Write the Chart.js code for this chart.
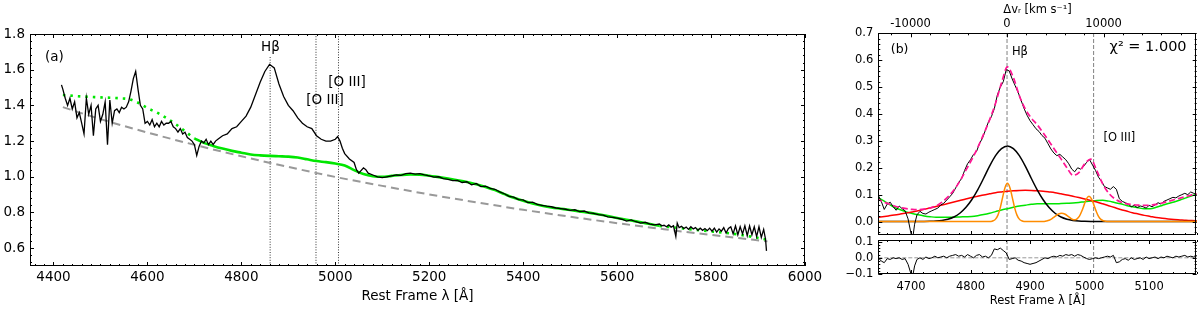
<!DOCTYPE html>
<html>
<head>
<meta charset="utf-8">
<script src="https://cdn.jsdelivr.net/npm/chart.js@4.4.1/dist/chart.umd.min.js"></script>
<style>
  html, body { margin: 0; padding: 0; background: #fff; }
  #wrap { position: relative; width: 1200px; height: 311px; overflow: hidden; }
  canvas { position: absolute; }
</style>
</head>
<body>
<div id="wrap">
  <canvas id="specA" width="840" height="311" style="left:0;top:0"></canvas>
  <canvas id="fitB" width="360" height="238" style="left:840px;top:0"></canvas>
  <canvas id="resB" width="360" height="75" style="left:840px;top:236px"></canvas>
</div>
<script>
// ---- panel (a): observed spectrum, host template, power-law continuum ----
const specA = [[4417,1.515],[4420,1.49],[4425,1.44],[4430,1.40],[4435,1.44],[4440,1.38],[4445,1.42],[4450,1.33],[4455,1.36],[4460,1.30],
  [4465,1.24],[4470,1.44],[4475,1.35],[4480,1.40],[4485,1.23],[4490,1.38],[4495,1.40],[4500,1.31],[4505,1.35],[4510,1.42],
  [4515,1.18],[4520,1.43],[4525,1.30],[4530,1.37],[4535,1.38],[4540,1.36],[4545,1.39],[4550,1.38],[4555,1.39],[4560,1.42],
  [4565,1.48],[4570,1.55],[4575,1.59],[4580,1.49],[4585,1.40],[4590,1.38],[4595,1.30],[4600,1.31],[4605,1.29],[4610,1.32],
  [4615,1.28],[4620,1.30],[4625,1.28],[4630,1.31],[4635,1.29],[4640,1.30],[4645,1.30],[4650,1.31],[4655,1.28],[4660,1.27],
  [4665,1.25],[4670,1.27],[4675,1.24],[4680,1.25],[4685,1.22],[4690,1.21],[4695,1.20],[4700,1.18],[4705,1.12],[4710,1.17],
  [4715,1.20],[4720,1.19],[4725,1.21],[4730,1.18],[4735,1.20],[4740,1.18],[4745,1.20],[4750,1.21],[4755,1.22],[4760,1.23],
  [4770,1.24],[4780,1.27],[4790,1.28],[4800,1.31],[4810,1.34],[4820,1.39],[4830,1.46],[4840,1.53],[4850,1.59],[4860,1.63],
  [4870,1.61],[4880,1.52],[4890,1.45],[4900,1.40],[4910,1.37],[4920,1.33],[4930,1.30],[4940,1.28],[4950,1.27],[4960,1.23],
  [4970,1.21],[4980,1.20],[4990,1.20],[5000,1.21],[5005,1.225],[5010,1.20],[5015,1.16],[5020,1.13],[5030,1.10],[5040,1.08],
  [5045,1.04],[5050,1.02],[5060,1.05],[5065,1.04],[5070,1.02],[5080,1.01],[5090,1.00],[5100,0.995],[5110,1.0],[5120,1.005],
  [5130,1.01],[5140,1.008],[5150,1.018],[5160,1.02],[5170,1.015],[5180,1.018],[5190,1.01],[5200,1.005],[5210,0.998],[5220,1.0],
  [5230,0.99],[5240,0.985],[5250,0.978],[5260,0.98],[5270,0.968],[5280,0.972],[5290,0.955],[5300,0.962],[5310,0.945],[5320,0.948],
  [5330,0.935],[5340,0.93],[5350,0.915],[5360,0.905],[5370,0.89],[5380,0.886],[5390,0.872],[5400,0.87],[5410,0.855],[5420,0.858],
  [5430,0.845],[5440,0.84],[5450,0.835],[5460,0.832],[5470,0.825],[5480,0.822],[5490,0.818],[5500,0.812],[5510,0.815],[5520,0.805],
  [5530,0.808],[5540,0.798],[5550,0.795],[5560,0.788],[5570,0.785],[5580,0.775],[5590,0.772],[5600,0.768],[5610,0.762],[5620,0.752],
  [5630,0.758],[5640,0.748],[5650,0.74],[5660,0.745],[5670,0.735],[5680,0.73],[5690,0.735],[5695,0.725],[5700,0.728],[5705,0.72],
  [5710,0.73],[5715,0.718],[5720,0.725],[5725,0.665],[5728,0.74],[5732,0.715],[5737,0.722],[5742,0.71],[5747,0.718],[5752,0.705],
  [5757,0.72],[5762,0.708],[5767,0.715],[5772,0.70],[5777,0.712],[5782,0.70],[5787,0.71],[5792,0.698],[5797,0.712],[5802,0.695],
  [5807,0.712],[5812,0.69],[5817,0.708],[5822,0.695],[5827,0.715],[5832,0.685],[5837,0.71],[5842,0.72],[5847,0.68],[5852,0.725],
  [5857,0.675],[5862,0.72],[5867,0.68],[5872,0.725],[5877,0.67],[5882,0.725],[5887,0.675],[5892,0.72],[5897,0.665],[5902,0.72],
  [5907,0.66],[5912,0.705],[5916,0.65],[5918,0.585]];

const hostFitA = [[4700,1.215],[4720,1.19],[4740,1.173],[4760,1.158],[4780,1.145],[4800,1.135],[4820,1.125],[4840,1.12],[4860,1.117],
  [4880,1.115],[4900,1.113],[4920,1.108],[4940,1.098],[4960,1.088],[4980,1.082],[5000,1.074],[5020,1.063],[5040,1.037],[5060,1.015],
  [5080,1.003],[5100,1.0],[5120,1.005],[5140,1.01],[5160,1.013],[5180,1.012],[5200,1.006],[5220,0.998],[5240,0.99],[5260,0.981],
  [5280,0.971],[5300,0.958],[5320,0.943],[5340,0.925],[5360,0.903],[5380,0.882],[5400,0.865],[5420,0.85],[5440,0.838],[5460,0.828],
  [5480,0.821],[5500,0.814],[5520,0.806],[5540,0.799],[5560,0.79],[5580,0.78],[5600,0.769],[5620,0.759],[5640,0.75],[5660,0.74],
  [5680,0.73],[5690,0.725]];
const hostBlueA = [[4420,1.458],[4460,1.45],[4500,1.445],[4540,1.44],[4560,1.435],[4580,1.415],[4600,1.385],[4620,1.36],[4640,1.33],
  [4660,1.295],[4680,1.255],[4700,1.215]];
const hostRedA = [[5690,0.725],[5720,0.716],[5760,0.705],[5800,0.694],[5840,0.683],[5880,0.667],[5918,0.648]];

const powerLawA = [[4420,1.39],[4500,1.323],[4600,1.248],[4700,1.179],[4800,1.115],[4900,1.055],[5000,0.999],[5100,0.949],
  [5200,0.901],[5300,0.857],[5400,0.815],[5500,0.776],[5600,0.740],[5700,0.706],[5800,0.674],[5920,0.638]];

const lineWavesA = [4861.3, 4958.9, 5006.8];
const lineTopsA = [1.68, 1.8, 1.8];
const xTicksA = [4400, 4600, 4800, 5000, 5200, 5400, 5600, 5800, 6000];
const yTicksA = [0.6, 0.8, 1.0, 1.2, 1.4, 1.6, 1.8];

// ---- panel (b): continuum-subtracted H-beta region and components ----
const specB = [[4645,0.097],[4650,0.075],[4655,0.045],[4660,0.065],[4665,0.072],[4670,0.055],[4675,0.042],[4680,0.058],[4685,0.048],
  [4690,0.040],[4695,0.01],[4700,-0.045],[4703,-0.06],[4706,-0.01],[4710,0.025],[4715,0.038],[4720,0.03],[4725,0.028],[4730,0.035],
  [4735,0.04],[4740,0.045],[4745,0.05],[4750,0.062],[4755,0.068],[4760,0.08],[4765,0.092],[4770,0.105],[4775,0.125],[4780,0.145],
  [4785,0.16],[4790,0.19],[4795,0.215],[4800,0.23],[4805,0.25],[4810,0.26],[4815,0.29],[4820,0.31],[4825,0.34],[4830,0.37],
  [4835,0.39],[4840,0.42],[4845,0.47],[4850,0.50],[4855,0.52],[4860,0.565],[4865,0.56],[4870,0.53],[4875,0.505],[4880,0.48],
  [4885,0.45],[4890,0.42],[4895,0.395],[4900,0.375],[4905,0.36],[4910,0.345],[4915,0.335],[4920,0.32],[4925,0.31],[4930,0.29],
  [4935,0.27],[4940,0.255],[4945,0.245],[4950,0.25],[4955,0.24],[4960,0.23],[4965,0.215],[4970,0.195],[4975,0.185],[4980,0.2],
  [4985,0.195],[4990,0.205],[4995,0.22],[5000,0.23],[5005,0.21],[5010,0.19],[5015,0.165],[5020,0.15],[5025,0.13],[5030,0.125],
  [5035,0.12],[5040,0.13],[5045,0.12],[5050,0.085],[5055,0.075],[5060,0.07],[5065,0.065],[5070,0.055],[5075,0.06],[5080,0.052],
  [5085,0.058],[5090,0.055],[5095,0.05],[5100,0.06],[5105,0.055],[5110,0.062],[5115,0.07],[5120,0.065],[5125,0.075],[5130,0.08],
  [5135,0.085],[5140,0.09],[5145,0.088],[5150,0.095],[5155,0.1],[5160,0.105],[5165,0.1],[5170,0.11],[5175,0.105],[5180,0.1]];

const gridB = [4642,4652,4662,4672,4682,4692,4702,4712,4722,4732,4742,4752,4762,4772,4782,4792,4802,4812,4822,4832,
  4842,4852,4862,4872,4882,4892,4902,4912,4922,4932,4942,4952,4962,4972,4982,4992,5002,5012,5022,5032,
  5042,5052,5062,5072,5082,5092,5102,5112,5122,5132,5142,5152,5162,5172,5182];
const totalB = [0.085,0.075,0.066,0.058,0.052,0.048,0.045,0.044,0.046,0.051,0.058,0.072,0.092,0.117,0.15,0.19,0.23,0.275,0.325,0.378,
  0.44,0.515,0.575,0.535,0.468,0.418,0.385,0.36,0.33,0.298,0.265,0.233,0.2,0.172,0.182,0.215,0.232,0.19,0.14,0.106,
  0.085,0.073,0.066,0.063,0.061,0.06,0.061,0.064,0.069,0.075,0.081,0.087,0.093,0.099,0.103];
const broadB = [0,0,0,0,0,0,0.0001,0.0001,0.0003,0.0008,0.0019,0.0043,0.0088,0.017,0.031,0.052,0.081,0.118,0.161,0.206,
  0.245,0.271,0.281,0.271,0.245,0.206,0.161,0.118,0.081,0.052,0.031,0.017,0.0088,0.0043,0.0019,0.0008,0.0003,0.0001,0,0,
  0,0,0,0,0,0,0,0,0,0,0,0,0,0,0];
const veryBroadB = [0.0152,0.0178,0.0208,0.024,0.0277,0.0316,0.0359,0.0405,0.0453,0.0505,0.0558,0.0613,0.067,0.0726,0.0783,0.084,0.0891,0.094,0.099,0.103,
  0.107,0.110,0.1127,0.1145,0.1156,0.116,0.1156,0.1145,0.1127,0.110,0.107,0.103,0.099,0.094,0.0891,0.084,0.0783,0.0726,0.066,0.059,
  0.052,0.045,0.039,0.033,0.028,0.023,0.019,0.015,0.012,0.0095,0.0075,0.006,0.0045,0.0035,0.0028];
const feIIB = [0.092,0.080,0.066,0.053,0.044,0.036,0.030,0.025,0.021,0.018,0.016,0.016,0.016,0.016,0.017,0.018,0.019,0.022,0.026,0.031,
  0.037,0.043,0.048,0.053,0.058,0.061,0.064,0.066,0.066,0.066,0.066,0.067,0.068,0.069,0.071,0.074,0.076,0.078,0.079,0.076,
  0.071,0.066,0.060,0.055,0.051,0.048,0.048,0.053,0.060,0.067,0.073,0.080,0.088,0.096,0.102];
const narrowB = [[4642,0],[4830,0],[4834,0.0004],[4838,0.003],[4842,0.009],[4846,0.024],[4850,0.052],[4854,0.091],[4858,0.127],
  [4862,0.142],[4866,0.127],[4870,0.091],[4874,0.052],[4878,0.024],[4882,0.009],[4886,0.003],[4890,0.0004],[4894,0],[4922,0],
  [4927,0.002],[4932,0.005],[4937,0.011],[4942,0.019],[4947,0.027],[4953,0.031],[4959,0.027],[4964,0.019],[4969,0.011],[4973,0.007],
  [4976,0.007],[4979,0.010],[4983,0.020],[4987,0.039],[4991,0.063],[4995,0.085],[4999,0.094],[5003,0.085],[5007,0.063],[5011,0.039],
  [5015,0.019],[5019,0.008],[5023,0.003],[5027,0.0008],[5031,0],[5182,0]];

const residB = [[4645,0.0],[4650,-0.02],[4655,-0.03],[4660,-0.005],[4665,-0.01],[4670,0.0],[4675,-0.005],[4680,0.0],[4685,-0.01],
  [4690,-0.005],[4695,-0.04],[4700,-0.1],[4703,-0.11],[4706,-0.05],[4710,-0.01],[4715,0.0],[4720,-0.01],[4725,0.005],[4730,-0.005],
  [4735,0.0],[4740,0.01],[4745,0.0],[4750,0.005],[4755,0.01],[4760,0.0],[4765,0.01],[4770,0.015],[4775,0.02],[4780,0.01],
  [4785,0.015],[4790,0.005],[4795,0.02],[4800,0.01],[4805,0.0],[4810,0.015],[4815,0.02],[4820,0.005],[4825,0.01],[4830,0.0],
  [4835,0.015],[4840,0.055],[4845,0.05],[4850,0.06],[4855,0.045],[4860,0.03],[4865,-0.01],[4870,-0.005],[4875,0.0],[4880,-0.015],
  [4885,-0.02],[4890,-0.03],[4895,-0.035],[4900,-0.04],[4905,-0.035],[4910,-0.03],[4915,-0.02],[4920,-0.01],[4925,0.0],[4930,-0.005],
  [4935,0.005],[4940,0.01],[4945,0.005],[4950,0.015],[4955,0.01],[4960,0.02],[4965,0.015],[4970,0.02],[4975,0.01],[4980,0.02],
  [4985,0.015],[4990,0.005],[4995,-0.005],[5000,-0.01],[5005,-0.005],[5010,0.0],[5015,-0.005],[5020,0.0],[5025,0.005],[5030,0.01],
  [5035,0.005],[5040,0.015],[5045,-0.03],[5050,-0.025],[5055,-0.01],[5060,-0.005],[5065,-0.015],[5070,0.0],[5075,-0.01],[5080,-0.005],
  [5085,0.0],[5090,-0.01],[5095,0.005],[5100,-0.005],[5105,0.0],[5110,0.005],[5115,-0.005],[5120,0.005],[5125,0.0],[5130,0.01],
  [5135,0.005],[5140,0.0],[5145,0.01],[5150,0.005],[5155,0.01],[5160,0.015],[5165,0.005],[5170,0.01],[5175,0.005],[5180,0.01]];

const lineWavesB = [4861.3, 5006.8];
const xTicksB = [4700, 4800, 4900, 5000, 5100];
const yTicksB = [0.0, 0.1, 0.2, 0.3, 0.4, 0.5, 0.6, 0.7];
const yTicksRes = [-0.1, 0.0, 0.1];
const vTicksB = [-10000, 0, 10000];
const restHb = 4861.3;
const cKms = 299792.458;

// ---- helpers ----
const FAMILY = 'DejaVu Sans';
const pairs = (list) => list.map(p => ({x: p[0], y: p[1]}));
const onGrid = (xs, ys) => xs.map((x, i) => ({x: x, y: ys[i]}));
const vline = (x, y0, y1) => [{x: x, y: y0}, {x: x, y: y1}];
const line = (data, color, width, dash, extra) => Object.assign({
  data: data, borderColor: color, borderWidth: width, borderDash: dash || [],
  pointRadius: 0, fill: false, tension: 0
}, extra || {});
const smooth = {cubicInterpolationMode: 'monotone'};
const setTicks = (vals) => (s) => { s.ticks = vals.map(v => ({value: v})); };
const fmt1 = (v) => (v < 0 ? '\u2212' + Math.abs(v).toFixed(1) : v.toFixed(1));
// fixed axis box sizes, no extra room for overhanging labels
const fixW = (w) => (s) => { s.width = w; s.paddingTop = 0; s.paddingBottom = 0; };
const fixH = (h) => (s) => { s.height = h; s.paddingLeft = 0; s.paddingRight = 0; };

// frame and inward tick marks (matplotlib style)
const frame = {
  id: 'frame',
  afterDatasetsDraw(chart, args, o) {
    const {ctx, chartArea: a, scales} = chart;
    ctx.save();
    ctx.strokeStyle = '#000';
    ctx.lineWidth = 1;
    ctx.setLineDash([]);
    ctx.strokeRect(Math.round(a.left) + 0.5, Math.round(a.top) + 0.5,
      Math.round(a.right - a.left) - 1, Math.round(a.bottom - a.top) - 1);
    const edge = {
      bottom: {at: a.bottom, dir: -1}, top: {at: a.top, dir: 1},
      left: {at: a.left, dir: 1}, right: {at: a.right, dir: -1}
    };
    (o.rows || []).forEach(r => {
      const s = scales[r.axis];
      const horiz = s.isHorizontal();
      const n0 = Math.ceil(s.min / r.minor - 1e-9), n1 = Math.floor(s.max / r.minor + 1e-9);
      for (let n = n0; n <= n1; n++) {
        const v = n * r.minor;
        const q = v / r.major;
        const len = Math.abs(q - Math.round(q)) < 1e-6 ? 4 : 2;
        const p = Math.round(s.getPixelForValue(v)) + 0.5;
        r.sides.forEach(sd => {
          const e = edge[sd];
          ctx.beginPath();
          if (horiz) { ctx.moveTo(p, e.at); ctx.lineTo(p, e.at + e.dir * len); }
          else { ctx.moveTo(e.at, p); ctx.lineTo(e.at + e.dir * len, p); }
          ctx.stroke();
        });
      }
    });
    ctx.restore();
  }
};

// text labels placed in data coordinates
const notes = {
  id: 'notes',
  afterDraw(chart, args, o) {
    const {ctx, scales} = chart;
    (o.items || []).forEach(it => {
      ctx.save();
      ctx.font = it[4] + 'px "' + FAMILY + '"';
      ctx.fillStyle = '#000';
      ctx.textAlign = it[3];
      ctx.textBaseline = 'middle';
      ctx.fillText(it[0], scales.x.getPixelForValue(it[1]), scales.y.getPixelForValue(it[2]));
      ctx.restore();
    });
  }
};

const baseOpts = {
  responsive: false,
  animation: false,
  devicePixelRatio: 1,
  events: [],
  parsing: false,
  normalized: true
};
const noGrid = {display: false, drawTicks: false};

// ---- chart (a) ----
const fontA = {family: FAMILY, size: 13.5};
const dsA = [
  line(pairs(specA), '#000', 1.3),
  line(pairs(hostFitA), '#00e600', 2.6, [], smooth),
  line(pairs(hostBlueA), '#00e600', 2.6, [2.5, 5], smooth),
  line(pairs(hostRedA), '#00e600', 2.6, [2.5, 5], smooth),
  line(pairs(powerLawA), '#999999', 2, [8, 5], smooth)
];
lineWavesA.forEach((w, i) => dsA.push(line(vline(w, 0.5, lineTopsA[i]), '#333', 1, [1, 1.6])));

new Chart(document.getElementById('specA'), {
  type: 'line',
  data: {datasets: dsA},
  plugins: [frame, notes],
  options: Object.assign({}, baseOpts, {
    layout: {padding: {left: 0, right: 35, top: 34, bottom: 0}},
    scales: {
      x: {
        type: 'linear', min: 4350, max: 6000,
        afterBuildTicks: setTicks(xTicksA),
        afterFit: fixH(45),
        grid: noGrid, border: {display: false},
        ticks: {font: fontA, color: '#000', padding: 3, autoSkip: false, maxRotation: 0, callback: (v) => String(v)},
        title: {display: true, text: 'Rest Frame \u03bb [\u00c5]', font: fontA, color: '#000', padding: {top: 0, bottom: 6}}
      },
      y: {
        type: 'linear', min: 0.5, max: 1.8,
        afterBuildTicks: setTicks(yTicksA),
        afterFit: fixW(30),
        grid: noGrid, border: {display: false},
        ticks: {font: fontA, color: '#000', padding: 5, autoSkip: false, callback: fmt1}
      }
    },
    plugins: {
      legend: {display: false},
      tooltip: {enabled: false},
      frame: {rows: [
        {axis: 'x', major: 200, minor: 20, sides: ['bottom', 'top']},
        {axis: 'y', major: 0.2, minor: 0.04, sides: ['left', 'right']}
      ]},
      notes: {items: [
        ['(a)', 4382, 1.67, 'left', 13.5],
        ['H\u03b2', 4862, 1.727, 'center', 13.5],
        ['[O III]', 4978, 1.43, 'center', 13.5],
        ['[O III]', 5025, 1.526, 'center', 13.5]
      ]}
    }
  })
});

// ---- chart (b) ----
const fontB = {family: FAMILY, size: 11.5};
const vMin = (4645 - restHb) / restHb * cKms;
const vMax = (5180 - restHb) / restHb * cKms;
const dsB = [
  line(onGrid(gridB, totalB), '#ff1493', 1.7, [6, 3], smooth),
  line(pairs(specB), '#000', 1),
  line(pairs(narrowB), '#ff8c00', 1.5, [], smooth),
  line(onGrid(gridB, broadB), '#000', 1.5, [], smooth),
  line(onGrid(gridB, veryBroadB), '#ff0000', 1.5, [], smooth),
  line(onGrid(gridB, feIIB), '#00e600', 1.5, [], smooth)
];
lineWavesB.forEach(w => dsB.push(line(vline(w, -0.05, 0.7), '#808080', 1, [4, 2])));

new Chart(document.getElementById('fitB'), {
  type: 'line',
  data: {datasets: dsB},
  plugins: [frame, notes],
  options: Object.assign({}, baseOpts, {
    layout: {padding: {left: 0, right: 3.3, top: 0, bottom: 3}},
    scales: {
      x: {type: 'linear', min: 4645, max: 5180, display: false},
      x2: {
        type: 'linear', position: 'top', min: vMin, max: vMax,
        afterBuildTicks: setTicks(vTicksB),
        afterFit: fixH(33.3),
        grid: noGrid, border: {display: false},
        ticks: {font: fontB, color: '#000', padding: 2, autoSkip: false, maxRotation: 0, callback: (v) => String(v)},
        title: {display: true, text: '\u0394v\u1d63 [km s\u207b\u00b9]', font: fontB, color: '#000', padding: {top: 3, bottom: 0}}
      },
      y: {
        type: 'linear', min: -0.05, max: 0.7,
        afterBuildTicks: setTicks(yTicksB),
        afterFit: fixW(38.3),
        grid: noGrid, border: {display: false},
        ticks: {font: fontB, color: '#000', padding: 5, autoSkip: false, callback: fmt1}
      }
    },
    plugins: {
      legend: {display: false},
      tooltip: {enabled: false},
      frame: {rows: [
        {axis: 'x', major: 100, minor: 20, sides: ['bottom']},
        {axis: 'x2', major: 10000, minor: 2000, sides: ['top']},
        {axis: 'y', major: 0.1, minor: 0.02, sides: ['left', 'right']}
      ]},
      notes: {items: [
        ['(b)', 4666, 0.637, 'left', 12.5],
        ['H\u03b2', 4883, 0.63, 'center', 11.5],
        ['\u03c7\u00b2 = 1.000', 5163, 0.648, 'right', 14.5],
        ['[O III]', 5050, 0.312, 'center', 11.5]
      ]}
    }
  })
});

// ---- residuals ----
const dsR = [
  line(pairs(residB), '#000', 1),
  line([{x: 4645, y: 0}, {x: 5180, y: 0}], '#999999', 1, [4, 2])
];
lineWavesB.forEach(w => dsR.push(line(vline(w, -0.1, 0.11), '#808080', 1, [4, 2])));

new Chart(document.getElementById('resB'), {
  type: 'line',
  data: {datasets: dsR},
  plugins: [frame],
  options: Object.assign({}, baseOpts, {
    layout: {padding: {left: 0, right: 3.3, top: 4, bottom: 0}},
    scales: {
      x: {
        type: 'linear', min: 4645, max: 5180,
        afterBuildTicks: setTicks(xTicksB),
        afterFit: fixH(37),
        grid: noGrid, border: {display: false},
        ticks: {font: fontB, color: '#000', padding: 6, autoSkip: false, maxRotation: 0, callback: (v) => String(v)},
        title: {display: true, text: 'Rest Frame \u03bb [\u00c5]', font: fontB, color: '#000', padding: {top: 0, bottom: 3}}
      },
      y: {
        type: 'linear', min: -0.1, max: 0.11,
        afterBuildTicks: setTicks(yTicksRes),
        afterFit: fixW(38.3),
        grid: noGrid, border: {display: false},
        ticks: {font: fontB, color: '#000', padding: 5, autoSkip: false, callback: fmt1}
      }
    },
    plugins: {
      legend: {display: false},
      tooltip: {enabled: false},
      frame: {rows: [
        {axis: 'x', major: 100, minor: 20, sides: ['bottom', 'top']},
        {axis: 'y', major: 0.1, minor: 0.02, sides: ['left', 'right']}
      ]}
    }
  })
});
</script>
</body>
</html>
